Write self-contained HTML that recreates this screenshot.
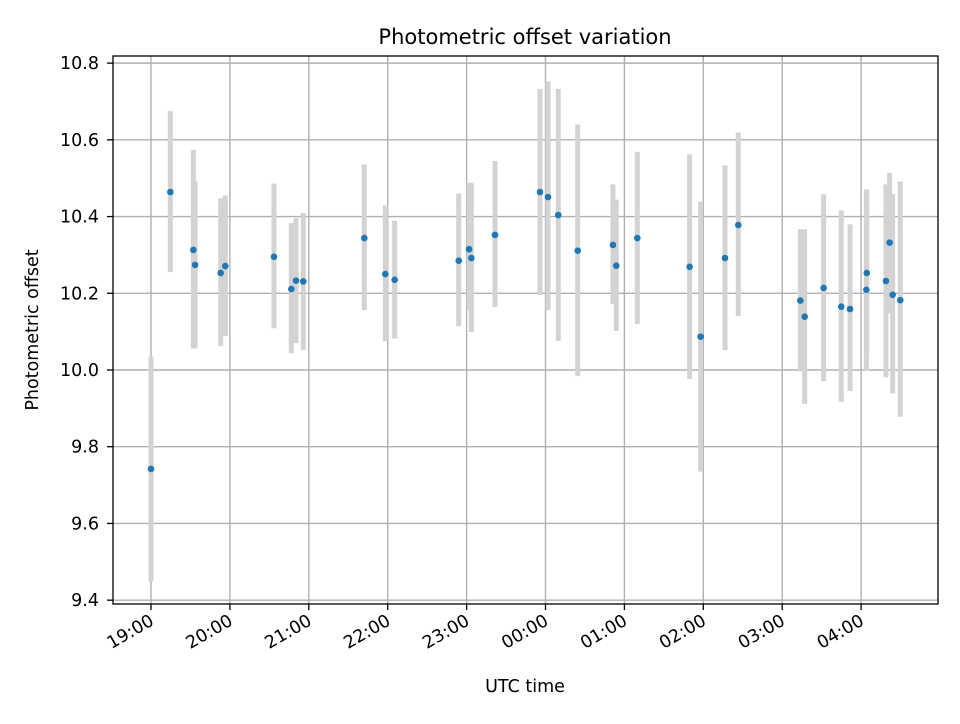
<!DOCTYPE html>
<html><head><meta charset="utf-8"><style>
body{margin:0;background:#fff;font-family:"DejaVu Sans","Liberation Sans",sans-serif}
svg text{font-family:"DejaVu Sans","Liberation Sans",sans-serif}
</style></head><body>
<svg id="chart" width="960" height="720" xmlns="http://www.w3.org/2000/svg">
<rect width="960" height="720" fill="#fff"/>
<text x="525" y="44" text-anchor="middle" font-size="21">Photometric offset variation</text>
<g id="grid"></g>
<g id="bars"></g>
<g id="pts"></g>
<g id="axes"></g>
<text x="525" y="692" text-anchor="middle" font-size="17.5">UTC time</text>
<text transform="translate(38,330) rotate(-90)" text-anchor="middle" font-size="17.5">Photometric offset</text>
</svg>
<script>
// minutes since 19:00
const times=[0,14.7,32.2,33.5,53,56.5,93.5,106.7,110.3,115.8,162.2,178.2,185.3,234,241.9,243.6,261.6,
295.8,301.9,309.7,324.5,351.3,353.8,369.8,409.6,418,436.5,446.6,493.8,497.1,511.5,524.9,531.6,544.3,544,558.9,561.7,564,569.8];
const values=[9.742,10.464,10.313,10.274,10.253,10.271,10.295,10.211,10.233,10.231,10.344,10.250,10.235,10.285,10.315,10.292,10.352,
10.464,10.451,10.404,10.311,10.326,10.272,10.344,10.269,10.087,10.292,10.378,10.181,10.139,10.214,10.165,10.159,10.253,10.209,10.232,10.332,10.196,10.182];
const upper=[10.035,10.675,10.574,10.493,10.447,10.455,10.486,10.383,10.396,10.409,10.536,10.429,10.389,10.460,10.488,10.488,10.545,
10.733,10.752,10.733,10.640,10.484,10.444,10.569,10.562,10.439,10.533,10.619,10.367,10.367,10.458,10.416,10.380,10.471,10.471,10.484,10.514,10.459,10.491];
const lower=[9.449,10.255,10.056,10.056,10.062,10.089,10.109,10.044,10.070,10.052,10.156,10.075,10.082,10.114,10.154,10.099,10.164,
10.196,10.156,10.076,9.984,10.172,10.102,10.120,9.977,9.735,10.052,10.141,9.996,9.912,9.971,9.917,9.945,10.042,9.998,9.981,10.148,9.939,9.878];
const yTicks=[9.4,9.6,9.8,10.0,10.2,10.4,10.6,10.8];
const xTickLabels=["19:00","20:00","21:00","22:00","23:00","00:00","01:00","02:00","03:00","04:00"];

const L=113,R=938,T=56,B=604;
const x=m=>151+m/60*78.9;
const y=v=>370-(v-10)*383.6;
const NS="http://www.w3.org/2000/svg";
function mk(tag,attrs,parent){const e=document.createElementNS(NS,tag);for(const k in attrs)e.setAttribute(k,attrs[k]);parent.appendChild(e);return e;}
const grid=document.getElementById('grid'),bars=document.getElementById('bars'),pts=document.getElementById('pts'),axes=document.getElementById('axes');
yTicks.forEach((v,i)=>{
  const gl=mk('line',{x1:L,x2:R,y1:y(v),y2:y(v),stroke:'#b0b0b0','stroke-width':1.4},grid);
  
  
  mk('line',{x1:L-6,x2:L,y1:y(v),y2:y(v),stroke:'#000','stroke-width':1.3},axes);
  const t=mk('text',{x:L-14,y:y(v)+6,'text-anchor':'end','font-size':17.5},axes);
  t.textContent=v.toFixed(1);
  
  
});
xTickLabels.forEach((s,i)=>{
  const px=x(i*60);
  const gl=mk('line',{x1:px,x2:px,y1:T,y2:B,stroke:'#b0b0b0','stroke-width':1.4},grid);
  
  
  mk('line',{x1:px,x2:px,y1:B,y2:B+6,stroke:'#000','stroke-width':1.3},axes);
  const t=mk('text',{transform:`translate(${px+4},${B+20}) rotate(-30)`,'text-anchor':'end','font-size':17.5},axes);
  t.textContent=s;
  
  
});
times.forEach((m,i)=>{
  const b=mk('line',{x1:x(m),x2:x(m),y1:y(upper[i]),y2:y(lower[i]),stroke:'#d3d3d3','stroke-width':5},bars);
  
  
});
times.forEach((m,i)=>{
  const c=mk('circle',{cx:x(m),cy:y(values[i]),r:3.3,fill:'#1f77b4'},pts);
  
  
});
const f=mk('rect',{x:L,y:T,width:R-L,height:B-T,fill:'none',stroke:'#000','stroke-width':1.3},axes);


</script>
</body></html>
